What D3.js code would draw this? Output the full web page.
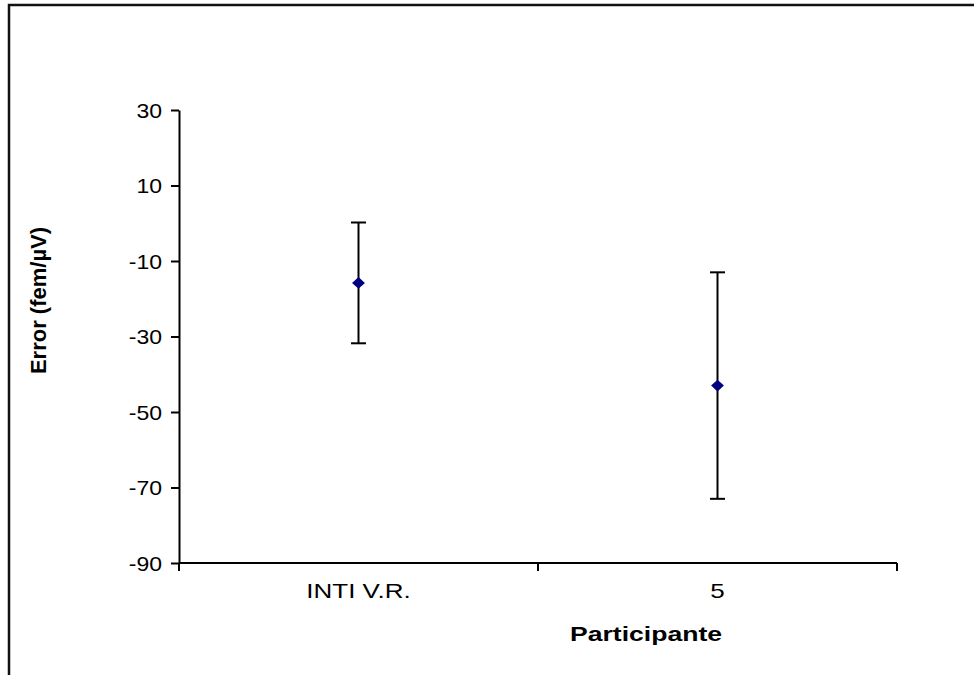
<!DOCTYPE html>
<html>
<head>
<meta charset="utf-8">
<script src="https://cdn.jsdelivr.net/npm/d3@7"></script>
<style>
  html, body { margin: 0; padding: 0; background: #fff; }
  svg { display: block; }
  text { font-family: "Liberation Sans", Arial, sans-serif; fill: #000; }
</style>
</head>
<body>
<script>
// Participants and their mean error with its uncertainty
const participants = ["INTI V.R.", "5"];
const meanError = [-15.8, -43.0];
const uncertainty = [16.0, 30.0];
const yTicks = [-90, -70, -50, -30, -10, 10, 30];

const W = 974, H = 675;
const plot = { left: 179, right: 897, top: 110, bottom: 563 };

const svg = d3.select("body").append("svg")
  .attr("width", W).attr("height", H);

// outer frame (continues past the right and bottom edges)
svg.append("rect")
  .attr("x", 9).attr("y", 5)
  .attr("width", 1200).attr("height", 1200)
  .attr("fill", "none").attr("stroke", "#111").attr("stroke-width", 2.5);

const x = d3.scaleBand().domain(participants).range([plot.left, plot.right]);
const y = d3.scaleLinear().domain([-90, 30]).range([plot.bottom, plot.top]);

// y axis
const yAxis = svg.append("g")
  .attr("transform", `translate(${plot.left},0)`)
  .call(d3.axisLeft(y).tickValues(yTicks).tickSize(8).tickSizeOuter(0).tickFormat(d3.format("d")));
yAxis.select(".domain").attr("stroke", "#000").attr("stroke-width", 2);
yAxis.selectAll(".tick line").attr("stroke", "#000").attr("stroke-width", 2);
yAxis.selectAll(".tick text")
  .attr("x", null).attr("dy", null)
  .attr("text-anchor", "end")
  .attr("font-size", 20)
  .attr("transform", "translate(-17,7) scale(1.15,1)")
  .text(d => d3.format("d")(d).replace("−", "-"));

// x axis: ticks sit on the category boundaries
const bounds = [plot.left, ...participants.map(p => x(p) + x.bandwidth())];
const xAxis = svg.append("g");
xAxis.append("line")
  .attr("x1", plot.left).attr("x2", plot.right)
  .attr("y1", plot.bottom).attr("y2", plot.bottom)
  .attr("stroke", "#000").attr("stroke-width", 2);
xAxis.selectAll("line.tk").data(bounds).join("line")
  .attr("class", "tk")
  .attr("x1", d => d).attr("x2", d => d)
  .attr("y1", plot.bottom).attr("y2", plot.bottom + 8)
  .attr("stroke", "#000").attr("stroke-width", 2);
xAxis.selectAll("text").data(participants).join("text")
  .attr("text-anchor", "middle")
  .attr("font-size", 20)
  .attr("transform", d => `translate(${x(d) + x.bandwidth() / 2},${plot.bottom + 35}) scale(1.3,1)`)
  .text(d => d);

// axis titles
svg.append("text")
  .attr("text-anchor", "middle")
  .attr("font-size", 20).attr("font-weight", "bold")
  .attr("transform", `translate(${(plot.left + plot.right) / 2 + 108},${plot.bottom + 78}) scale(1.33,1)`)
  .text("Participante");

svg.append("text")
  .attr("text-anchor", "middle")
  .attr("font-size", 22).attr("font-weight", "bold")
  .attr("transform", `translate(46,${(plot.top + plot.bottom) / 2 - 36}) rotate(-90)`)
  .text("Error (fem/µV)");

// error bars
const capHalf = 7.5;
const bars = svg.append("g").selectAll("g").data(participants).join("g");
bars.append("line")
  .attr("x1", d => x(d) + x.bandwidth() / 2).attr("x2", d => x(d) + x.bandwidth() / 2)
  .attr("y1", (d, i) => y(meanError[i] + uncertainty[i]))
  .attr("y2", (d, i) => y(meanError[i] - uncertainty[i]))
  .attr("stroke", "#000").attr("stroke-width", 2);
bars.selectAll("line.cap")
  .data((d, i) => [meanError[i] + uncertainty[i], meanError[i] - uncertainty[i]].map(v => ({ d, v })))
  .join("line").attr("class", "cap")
  .attr("x1", o => x(o.d) + x.bandwidth() / 2 - capHalf)
  .attr("x2", o => x(o.d) + x.bandwidth() / 2 + capHalf)
  .attr("y1", o => y(o.v)).attr("y2", o => y(o.v))
  .attr("stroke", "#000").attr("stroke-width", 2);

// mean markers (diamonds)
svg.append("g").selectAll("path").data(participants).join("path")
  .attr("d", d3.symbol(d3.symbolSquare, 68)())
  .attr("transform", (d, i) => `translate(${x(d) + x.bandwidth() / 2},${y(meanError[i])}) scale(1.1,1) rotate(45)`)
  .attr("fill", "#000080");
</script>
</body>
</html>
